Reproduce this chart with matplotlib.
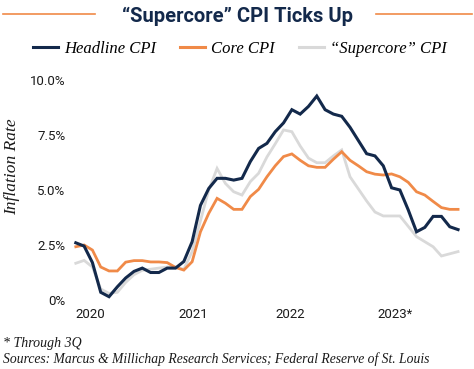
import numpy as np
import matplotlib
matplotlib.use("Agg")
import matplotlib.pyplot as plt
from matplotlib.lines import Line2D

# monthly, Jan 2020 .. Nov 2023 (YoY %)
headline = [2.6, 2.45, 1.7, 0.35, 0.15, 0.6, 1.0, 1.3, 1.45, 1.25, 1.25, 1.45,
            1.45, 1.75, 2.65, 4.3, 5.07, 5.53, 5.53, 5.45, 5.53, 6.29, 6.89, 7.12,
            7.65, 8.05, 8.65, 8.45, 8.8, 9.27, 8.65, 8.45, 8.35, 7.85, 7.25, 6.65,
            6.55, 6.1, 5.1, 5.0, 4.1, 3.1, 3.3, 3.8, 3.8, 3.33, 3.2]
core = [2.42, 2.5, 2.27, 1.5, 1.32, 1.32, 1.72, 1.79, 1.79, 1.73, 1.73, 1.7,
        1.48, 1.36, 1.74, 3.1, 3.94, 4.62, 4.4, 4.12, 4.12, 4.7, 5.03, 5.6,
        6.1, 6.52, 6.64, 6.35, 6.1, 6.03, 6.03, 6.4, 6.74, 6.35, 6.1, 5.83,
        5.72, 5.68, 5.73, 5.6, 5.35, 4.92, 4.77, 4.48, 4.2, 4.12, 4.12]
supercore = [1.67, 1.8, 1.5, 0.5, 0.3, 0.35, 0.8, 1.15, 1.35, 1.4, 1.45, 1.5,
             1.5, 1.4, 2.2, 3.6, 5.0, 5.98, 5.3, 4.92, 4.77, 5.38, 5.76, 6.5,
             7.1, 7.73, 7.65, 7.0, 6.45, 6.24, 6.24, 6.55, 6.82, 5.6, 5.05, 4.5,
             4.0, 3.82, 3.82, 3.82, 3.35, 2.88, 2.65, 2.42, 2.0, 2.1, 2.2]
year_labels = ["2020", "2021", "2022", "2023*"]
year_pos = [1.7, 14.1, 25.8, 38.4]
yticks = [0, 2.5, 5.0, 7.5, 10.0]
ytick_labels = ["0%", "2.5%", "5.0%", "7.5%", "10.0%"]

NAVY = "#13294b"; ORANGE = "#f08a48"; GRAY = "#d9d9d9"
W, H = 474, 369
SERIF = ["Liberation Serif", "DejaVu Serif"]
SANS = ["Roboto", "DejaVu Sans"]

fig = plt.figure(figsize=(W/100, H/100), dpi=100)
fig.patch.set_facecolor("white")

# axes placed in pixel terms: idx 0 -> x 75.8, 8.31 px/month; 0% -> y 300, 22 px per 1%
x0, dx = 75.8, 8.31
left, right = x0 - 0.5*dx, x0 + 46.5*dx
bot, top = 300 + 0.3*22, 300 - 10.3*22
ax = fig.add_axes([left/W, 1 - bot/H, (right-left)/W, (bot-top)/H])
ax.set_xlim(-0.5, 46.5); ax.set_ylim(-0.3, 10.3)

x = np.arange(len(headline))
ax.plot(x, supercore, color=GRAY, lw=2.0, solid_joinstyle="miter", zorder=2)
ax.plot(x, core, color=ORANGE, lw=2.0, solid_joinstyle="miter", zorder=3)
ax.plot(x, headline, color=NAVY, lw=2.2, solid_joinstyle="miter", zorder=4)

for s in ax.spines.values():
    s.set_visible(False)
ax.set_yticks(yticks, ytick_labels, family=SANS, fontsize=9.5, color="#1a1a1a")
ax.set_xticks(year_pos, year_labels, family=SANS, fontsize=9.5, color="#1a1a1a")
ax.tick_params(length=0)
ax.tick_params(axis="y", pad=4.5)
ax.tick_params(axis="x", pad=1.0)
ax.set_ylabel("Inflation Rate", family=SERIF, style="italic", fontsize=12.5, color="#1a1a1a")
ax.yaxis.set_label_coords(-(left - 20)/(right-left), 0.6)

# title with orange rules
fig.text(237/W, 1 - 16/H, "\u201cSupercore\u201d CPI Ticks Up", ha="center", va="center",
         family=SANS, weight="bold", fontsize=14.5, color=NAVY)
fig.add_artist(Line2D([3/W, 95/W], [1 - 14/H]*2, color=ORANGE, lw=1.2))
fig.add_artist(Line2D([376/W, 472/W], [1 - 14/H]*2, color=ORANGE, lw=1.2))

handles = [Line2D([], [], color=NAVY, lw=2.2), Line2D([], [], color=ORANGE, lw=2.2),
           Line2D([], [], color=GRAY, lw=2.2)]
fig.legend(handles, ["Headline CPI", "Core CPI", "\u201cSupercore\u201d CPI"],
           loc="center", bbox_to_anchor=(240/W, 1 - 49/H), ncol=3, frameon=False,
           prop=dict(family=SERIF, style="italic", size=12), handlelength=1.5,
           handletextpad=0.35, columnspacing=1.45)

fig.text(3/W, 1 - 343/H, "* Through 3Q", family=SERIF, style="italic", fontsize=10,
         va="center", color="#1a1a1a")
fig.text(3/W, 1 - 359/H, "Sources: Marcus & Millichap Research Services; Federal Reserve of St. Louis",
         family=SERIF, style="italic", fontsize=9.8, va="center", color="#1a1a1a")

fig.savefig("out.png", dpi=100, facecolor="white")
